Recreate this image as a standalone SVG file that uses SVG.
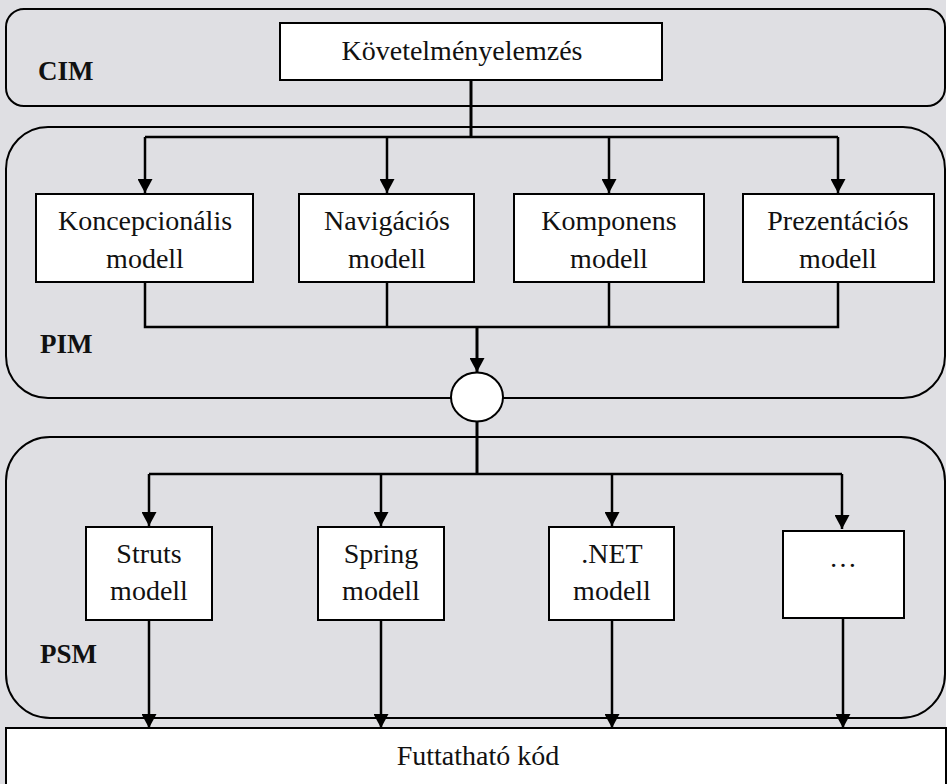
<svg xmlns="http://www.w3.org/2000/svg" width="948" height="784" viewBox="0 0 948 784">
  <defs>
    <marker id="arr" viewBox="0 0 14 15" refX="14" refY="7.5" markerWidth="14" markerHeight="15" markerUnits="userSpaceOnUse" orient="auto">
      <path d="M0,0 L14,7.5 L0,15 Z" fill="#000"/>
    </marker>
    <style>
      .layer { fill: none; stroke: #000; stroke-width: 2; }
      .box { fill: #fff; stroke: #000; stroke-width: 2; }
      .txt { font-family: "Liberation Serif", "Times New Roman", serif; font-size: 28px; fill: #111; text-anchor: middle; }
      .lbl { font-family: "Liberation Serif", "Times New Roman", serif; font-size: 27px; font-weight: bold; fill: #111; }
      .ln { fill: none; stroke: #000; stroke-width: 2.5; }
      .thick { fill: none; stroke: #000; stroke-width: 3; }
    </style>
  </defs>

  <!-- page background -->
  <rect x="0" y="0" width="948" height="784" fill="#fff"/>
  <rect x="0" y="0" width="946" height="784" fill="#dfdfe3"/>

  <!-- model layers -->
  <g id="layer-cim">
    <rect class="layer" x="6" y="9" width="939" height="97" rx="18" ry="18"/>
    <text class="lbl" x="38" y="80">CIM</text>
  </g>
  <g id="layer-pim">
    <rect class="layer" x="6" y="127" width="939" height="271" rx="42" ry="42"/>
    <text class="lbl" x="40" y="353">PIM</text>
  </g>
  <g id="layer-psm">
    <rect class="layer" x="6" y="437" width="939" height="281" rx="44" ry="44"/>
    <text class="lbl" x="40" y="663">PSM</text>
  </g>

  <!-- connectors -->
  <g id="connectors">
    <!-- requirements to PIM models -->
    <path class="thick" d="M471,80 V137"/>
    <path class="ln" d="M145,137 H838"/>
    <path class="ln" d="M145,137 V193" marker-end="url(#arr)"/>
    <path class="ln" d="M387,137 V193" marker-end="url(#arr)"/>
    <path class="ln" d="M609,137 V193" marker-end="url(#arr)"/>
    <path class="ln" d="M838,137 V193" marker-end="url(#arr)"/>
    <!-- PIM models join -->
    <path class="ln" d="M145,282 V327 H838 V282"/>
    <path class="ln" d="M387,282 V327"/>
    <path class="ln" d="M609,282 V327"/>
    <path class="thick" d="M477,327 V372" marker-end="url(#arr)"/>
    <!-- transformation to PSM models -->
    <path class="thick" d="M477,421 V474"/>
    <path class="ln" d="M149,474 H842"/>
    <path class="ln" d="M149,474 V526" marker-end="url(#arr)"/>
    <path class="ln" d="M381,474 V526" marker-end="url(#arr)"/>
    <path class="ln" d="M612,474 V526" marker-end="url(#arr)"/>
    <path class="ln" d="M842,474 V529" marker-end="url(#arr)"/>
    <!-- PSM models to code -->
    <path class="ln" d="M149,620 V728" marker-end="url(#arr)"/>
    <path class="ln" d="M381,620 V728" marker-end="url(#arr)"/>
    <path class="ln" d="M612,620 V728" marker-end="url(#arr)"/>
    <path class="ln" d="M843,618 V728" marker-end="url(#arr)"/>
  </g>

  <!-- nodes -->
  <g id="kovetelmenyelemzes">
    <rect class="box" x="280" y="23" width="382" height="57"/>
    <text class="txt" x="462" y="60">Követelményelemzés</text>
  </g>
  <g id="koncepcionalis">
    <rect class="box" x="36" y="194" width="217" height="88"/>
    <text class="txt" x="145" y="230">Koncepcionális</text>
    <text class="txt" x="145" y="268">modell</text>
  </g>
  <g id="navigacios">
    <rect class="box" x="299" y="194" width="175" height="88"/>
    <text class="txt" x="387" y="230">Navigációs</text>
    <text class="txt" x="387" y="268">modell</text>
  </g>
  <g id="komponens">
    <rect class="box" x="514" y="194" width="190" height="88"/>
    <text class="txt" x="609" y="230">Komponens</text>
    <text class="txt" x="609" y="268">modell</text>
  </g>
  <g id="prezentacios">
    <rect class="box" x="743" y="194" width="191" height="88"/>
    <text class="txt" x="838" y="230">Prezentációs</text>
    <text class="txt" x="838" y="268">modell</text>
  </g>
  <g id="transzformacio">
    <ellipse class="box" cx="477" cy="397" rx="26" ry="24.5"/>
  </g>
  <g id="struts">
    <rect class="box" x="86" y="527" width="126" height="93"/>
    <text class="txt" x="149" y="563">Struts</text>
    <text class="txt" x="149" y="600">modell</text>
  </g>
  <g id="spring">
    <rect class="box" x="318" y="527" width="126" height="93"/>
    <text class="txt" x="381" y="563">Spring</text>
    <text class="txt" x="381" y="600">modell</text>
  </g>
  <g id="dotnet">
    <rect class="box" x="549" y="527" width="125" height="93"/>
    <text class="txt" x="612" y="563">.NET</text>
    <text class="txt" x="612" y="600">modell</text>
  </g>
  <g id="tobbi">
    <rect class="box" x="783" y="531" width="121" height="87"/>
    <text class="txt" x="843" y="567">…</text>
  </g>
  <g id="futtathato-kod">
    <rect class="box" x="6" y="728" width="940" height="64"/>
    <text class="txt" x="478" y="765">Futtatható kód</text>
  </g>
</svg>
